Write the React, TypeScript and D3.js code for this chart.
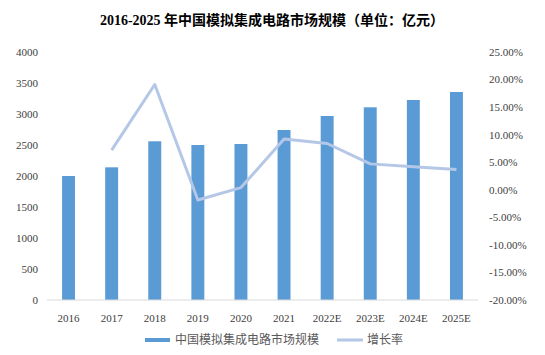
import React from "react";
import * as d3 from "d3";

const categories = ["2016", "2017", "2018", "2019", "2020", "2021", "2022E", "2023E", "2024E", "2025E"];
const marketSize = [2000, 2140, 2560, 2500, 2516, 2742, 2968, 3108, 3226, 3355];
const growthRate: (number | null)[] = [null, 7.2, 19.1, -1.85, 0.4, 9.2, 8.4, 4.7, 4.2, 3.7];
const leftTicks = [0, 500, 1000, 1500, 2000, 2500, 3000, 3500, 4000];
const rightTicks = [-20, -15, -10, -5, 0, 5, 10, 15, 20, 25];

const W = 545, H = 355;
const left = 47, right = 478, top = 52, bottom = 300;
const FONT = "'Liberation Serif', 'Times New Roman', 'Noto Sans CJK SC', serif";

export default function App() {
  const x = d3.scaleBand().domain(categories).range([left, right]).paddingInner(0.7).paddingOuter(0.35);
  const yL = d3.scaleLinear().domain([0, 4000]).range([bottom, top]);
  const yR = d3.scaleLinear().domain([-20, 25]).range([bottom, top]);
  const cx = (c: string) => (x(c) as number) + x.bandwidth() / 2;
  const pts = categories
    .map((c, i) => ({ c, v: growthRate[i] }))
    .filter((d) => d.v !== null) as { c: string; v: number }[];
  const line = d3.line<{ c: string; v: number }>().x((d) => cx(d.c)).y((d) => yR(d.v));

  return (
    <svg width={W} height={H} style={{ position: "absolute", left: 0, top: 0 }} fontFamily={FONT}>
      <rect width={W} height={H} fill="#fff" />
      <text x={272} y={25} textAnchor="middle" fontSize={14} fontWeight="bold" fill="#000">
        2016-2025 年中国模拟集成电路市场规模（单位：亿元）
      </text>
      {leftTicks.map((t) => (
        <text key={t} x={38} y={yL(t)} dy="0.35em" textAnchor="end" fontSize={11} fill="#404040">
          {t}
        </text>
      ))}
      {rightTicks.map((t) => (
        <text key={t} x={489} y={yR(t)} dy="0.35em" textAnchor="start" fontSize={11} fill="#404040">
          {t.toFixed(2) + "%"}
        </text>
      ))}
      {categories.map((c, i) => (
        <rect key={c} x={x(c)} y={yL(marketSize[i])} width={x.bandwidth()} height={bottom - yL(marketSize[i])} fill="#5b9bd5" />
      ))}
      <line x1={left} x2={right} y1={bottom} y2={bottom} stroke="#d9d9d9" strokeWidth={1} />
      <path d={line(pts) || ""} fill="none" stroke="#b4c7e7" strokeWidth={3} strokeLinejoin="round" />
      {categories.map((c) => (
        <text key={c} x={cx(c)} y={318} dy="0.35em" textAnchor="middle" fontSize={11} fill="#404040">
          {c}
        </text>
      ))}
      <rect x={145} y={338} width={25} height={4} fill="#5b9bd5" />
      <text x={175} y={340} dy="0.35em" fontSize={12} fill="#595959">中国模拟集成电路市场规模</text>
      <line x1={337} x2={363} y1={340} y2={340} stroke="#b4c7e7" strokeWidth={3} />
      <text x={367} y={340} dy="0.35em" fontSize={12} fill="#595959">增长率</text>
    </svg>
  );
}
